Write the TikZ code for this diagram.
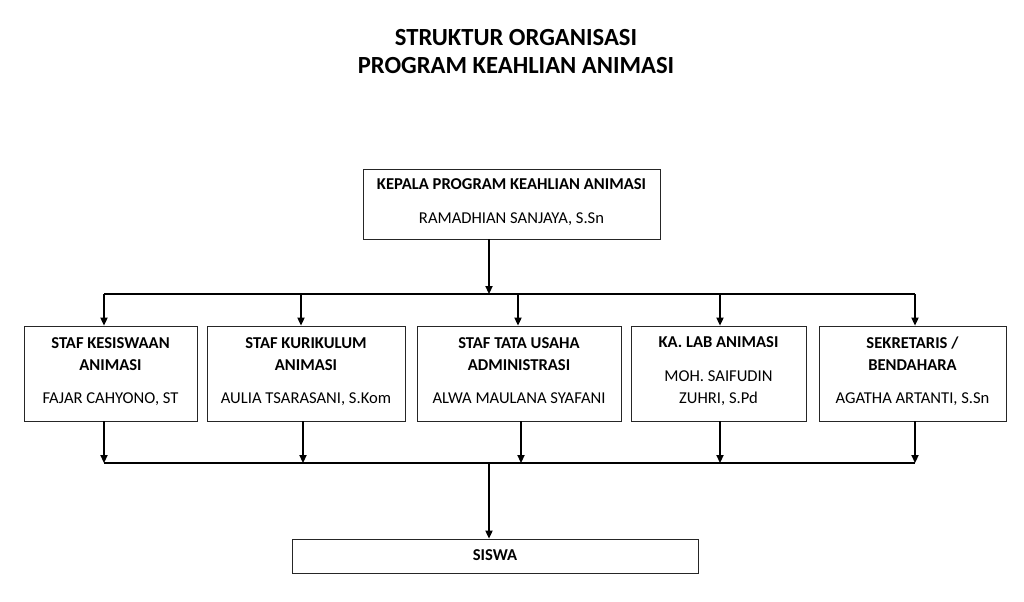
\documentclass[tikz,border=0pt]{standalone}
\usepackage{fontspec}
\setmainfont{Carlito}
\usepackage{tikz}
\usetikzlibrary{positioning, arrows.meta}
\definecolor{box-line}{gray}{0.15}

\begin{document}
\begin{tikzpicture}[x=0.025cm, y=-0.025cm,
						box/.style={draw=box-line, line width=0.6pt, rectangle, inner sep=0pt, align=center, font=\fontsize{11.8}{15.6}\selectfont, execute at begin node=\strut, execute at end node=\strut},
						arr/.style={-{Triangle[length=0.2cm, width=0.18cm]}, line width=0.9pt}]
						\useasboundingbox (0,0) rectangle (1024,601);
						\node[align=center, font=\fontsize{17.5}{20.6}\selectfont\bfseries] (title) at (516,51.5) {STRUKTUR ORGANISASI\\PROGRAM KEAHLIAN ANIMASI};
						\node[box, minimum width=7.425cm, minimum height=1.75cm] (kepala) at (511.5,204) {\textbf{KEPALA PROGRAM KEAHLIAN ANIMASI}\\[8.5pt]RAMADHIAN SANJAYA, S.Sn};
						\node[box, minimum width=4.325cm, minimum height=2.375cm] (kesiswaan) at (110.5,373.5) {\textbf{STAF KESISWAAN}\\\textbf{ANIMASI}\\[8pt]FAJAR CAHYONO, ST};
						\node[box, minimum width=4.95cm, minimum height=2.375cm] (kurikulum) at (306,373.5) {\textbf{STAF KURIKULUM}\\\textbf{ANIMASI}\\[8pt]AULIA TSARASANI, S.Kom};
						\node[box, minimum width=5.1cm, minimum height=2.375cm] (tatausaha) at (519,373.5) {\textbf{STAF TATA USAHA}\\\textbf{ADMINISTRASI}\\[8pt]ALWA MAULANA SYAFANI};
						\node[box, minimum width=4.375cm, minimum height=2.375cm] (lab) at (718.5,373.5) {\textbf{KA. LAB ANIMASI}\\[9pt]MOH. SAIFUDIN\\ZUHRI, S.Pd};
						\node[box, minimum width=4.675cm, minimum height=2.375cm] (sekretaris) at (912.5,373.5) {\textbf{SEKRETARIS /}\\\textbf{BENDAHARA}\\[8pt]AGATHA ARTANTI, S.Sn};
						\node[box, minimum width=10.15cm, minimum height=0.85cm] (siswa) at (495,556) {\textbf{SISWA}};
						% upper bus
						\coordinate (top) at (489,294);
						\coordinate (t1) at (104,294);
						\coordinate (t2) at (301,294);
						\coordinate (t3) at (518,294);
						\coordinate (t4) at (720,294);
						\coordinate (t5) at (915,294);
						% lower bus
						\coordinate (bot) at (489,463);
						\coordinate (u1) at (104,463);
						\coordinate (u2) at (303,463);
						\coordinate (u3) at (521,463);
						\coordinate (u4) at (720,463);
						\coordinate (u5) at (915,463);
						\draw[line width=0.9pt] (t1) -- (t5) (u1) -- (u5);
						\draw
						(kepala.south -| top) edge[arr] (top)
						(t1) edge[arr] (t1 |- kesiswaan.north)
						(t2) edge[arr] (t2 |- kurikulum.north)
						(t3) edge[arr] (t3 |- tatausaha.north)
						(t4) edge[arr] (t4 |- lab.north)
						(t5) edge[arr] (t5 |- sekretaris.north)
						(u1 |- kesiswaan.south) edge[arr] (u1)
						(u2 |- kurikulum.south) edge[arr] (u2)
						(u3 |- tatausaha.south) edge[arr] (u3)
						(u4 |- lab.south) edge[arr] (u4)
						(u5 |- sekretaris.south) edge[arr] (u5)
						(bot) edge[arr] (bot |- siswa.north);
					\end{tikzpicture}
\end{document}
